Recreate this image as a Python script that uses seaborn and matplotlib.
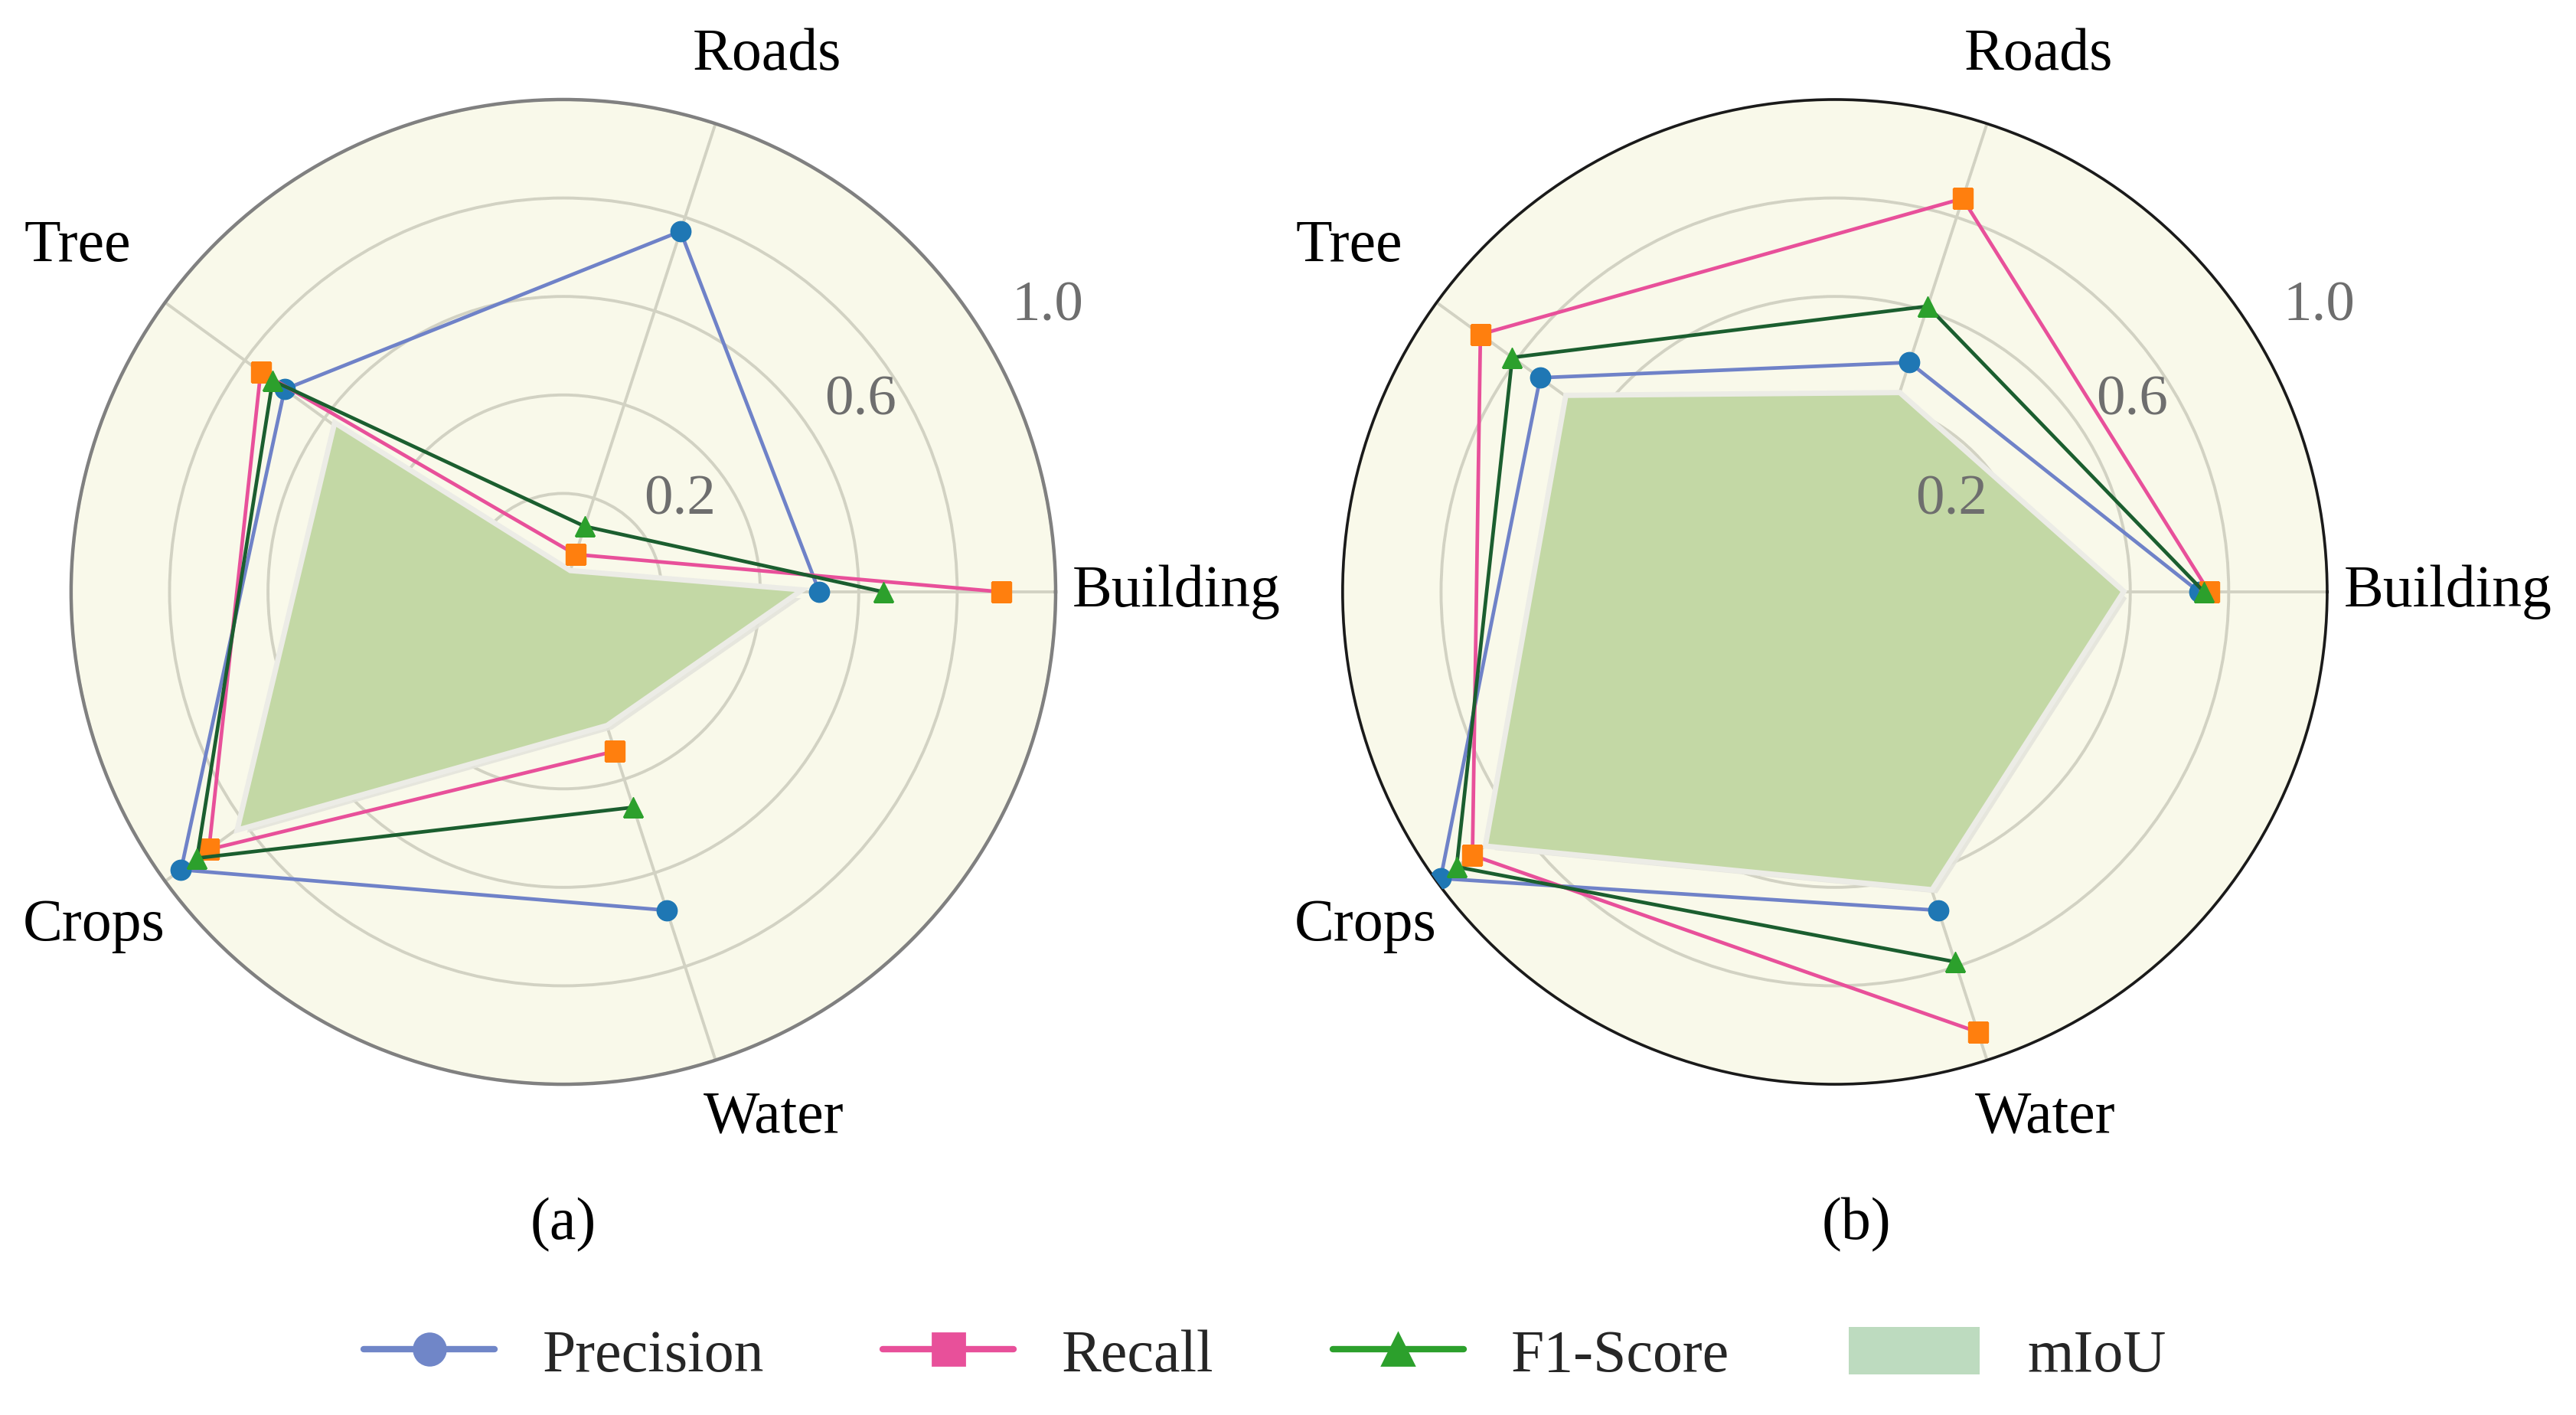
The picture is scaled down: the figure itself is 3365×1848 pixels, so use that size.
import numpy as np
import pandas as pd
import matplotlib
matplotlib.use("Agg")
import matplotlib.pyplot as plt
import matplotlib.patheffects as pe
from matplotlib.lines import Line2D
from matplotlib.patches import Patch
import seaborn as sns

# ---------------- data ----------------
categories = ["Building", "Roads", "Tree", "Crops", "Water"]
series_names = ["Precision", "Recall", "F1-Score", "mIoU"]

precision_a = [0.52, 0.77, 0.70, 0.96, 0.68]
recall_a    = [0.89, 0.08, 0.76, 0.89, 0.34]
f1_a        = [0.65, 0.14, 0.73, 0.92, 0.46]
miou_a      = [0.47, 0.04, 0.57, 0.81, 0.28]

precision_b = [0.74, 0.49, 0.74, 0.99, 0.68]
recall_b    = [0.76, 0.84, 0.89, 0.91, 0.94]
f1_b        = [0.75, 0.61, 0.81, 0.95, 0.79]
miou_b      = [0.58, 0.42, 0.67, 0.87, 0.63]

r_ticks = [0.2, 0.4, 0.6, 0.8, 1.0]
r_tick_labels = ["0.2", "0.6", "1.0"]
panel_labels = ["(a)", "(b)"]

# ---------------- style ----------------
sns.set_theme(style="white")
plt.rcParams["font.family"] = ["Liberation Serif", "DejaVu Serif"]

FS = 28
line_colors = {"Precision": "#6f82c8", "Recall": "#e8509a", "F1-Score": "#1b5e2f"}
marker_colors = {"Precision": "#1f77b4", "Recall": "#ff7f0e", "F1-Score": "#2ca02c"}
markers = {"Precision": "o", "Recall": "s", "F1-Score": "^"}
legend_line_colors = {"Precision": "#7086c8", "Recall": "#e8509a", "F1-Score": "#2ca02c"}
fill_color = "#c3d8a5"
bg_color = "#f9f9ea"
grid_color = "#d2d2c3"

# label placement (styling): (theta_deg, r) of label centres
cat_label_pos = [(0, 1.245), (69.2, 1.166), (144.6, 1.21), (215.4, 1.17), (291.8, 1.15)]
rlab_pos = [(38, 0.301), (32.7, 0.717), (30.5, 1.142)]

angles = np.deg2rad(np.arange(len(categories)) * 360.0 / len(categories))

fig = plt.figure(figsize=(3365 / 200, 1848 / 200), dpi=200)
rects = [[0.0276, 0.2337, 0.3822, 0.696], [0.5212, 0.2337, 0.3822, 0.696]]
panels = [
    (precision_a, recall_a, f1_a, miou_a, "#808080", 1.6),
    (precision_b, recall_b, f1_b, miou_b, "#1a1a1a", 1.3),
]
panel_x = [0.2187, 0.7207]

for idx, (prec, rec, f1, miou, spine_col, spine_lw) in enumerate(panels):
    ax = fig.add_axes(rects[idx], projection="polar")
    ax.set_facecolor(bg_color)
    ax.set_ylim(0, 1.0)
    ax.set_yticks(r_ticks)
    ax.set_yticklabels([])
    ax.set_xticks(angles)
    ax.set_xticklabels([])
    ax.grid(True, color=grid_color, linewidth=1.4)
    ax.spines["polar"].set_color(spine_col)
    ax.spines["polar"].set_linewidth(spine_lw)
    ax.tick_params(length=0)

    theta_closed = np.append(angles, angles[0])

    # mIoU fill
    m_closed = np.append(miou, miou[0])
    poly = ax.fill(theta_closed, m_closed, color=fill_color, alpha=1.0, zorder=2, lw=0)[0]
    poly.set_path_effects([
        pe.SimplePatchShadow(offset=(3, -3), shadow_rgbFace="#e4e4dc", alpha=0.9),
        pe.Stroke(linewidth=5, foreground="#ecece6"),
        pe.Normal(),
    ])

    for name, vals in zip(["Precision", "Recall", "F1-Score"], [prec, rec, f1]):
        v_closed = np.append(vals, vals[0])
        df = pd.DataFrame({"theta": theta_closed, "value": v_closed})
        sns.lineplot(data=df, x="theta", y="value", ax=ax, sort=False,
                     color=line_colors[name], linewidth=1.7,
                     marker=markers[name], markersize=9.5,
                     markerfacecolor=marker_colors[name],
                     mec=marker_colors[name], mew=0.5, zorder=4)
    ax.set_xlabel("")
    ax.set_ylabel("")
    ax.set_ylim(0, 1.0)

    for (tdeg, rr), lab in zip(cat_label_pos, categories):
        ax.text(np.deg2rad(tdeg), rr, lab, ha="center", va="center",
                fontsize=FS, color="black")
    for (tdeg, rr), lab in zip(rlab_pos, r_tick_labels):
        ax.text(np.deg2rad(tdeg), rr, lab, ha="center", va="center",
                fontsize=FS - 1, color="#6e6e6e", zorder=6)

    fig.text(panel_x[idx], 0.1347, panel_labels[idx], ha="center", va="center",
             fontsize=FS, color="black")

handles = [
    Line2D([], [], color=legend_line_colors[n], marker=markers[n], markersize=15,
           markerfacecolor=legend_line_colors[n], markeredgecolor=legend_line_colors[n],
           linewidth=3)
    for n in ["Precision", "Recall", "F1-Score"]
]
handles.append(Patch(facecolor="#bddbbf", edgecolor="none"))
fig.legend(handles, series_names, loc="center", bbox_to_anchor=(0.491, 0.042),
           ncol=4, frameon=False, handlelength=2.2, handleheight=0.85,
           handletextpad=0.8, columnspacing=2.0, fontsize=FS)

fig.savefig("out.png", dpi=200)
